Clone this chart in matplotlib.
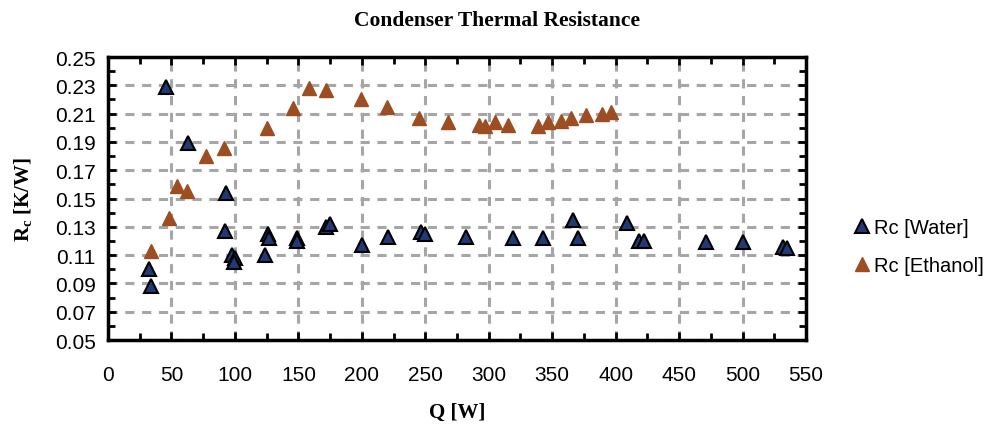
import matplotlib
matplotlib.use('Agg')
import matplotlib.pyplot as plt
from matplotlib.ticker import MultipleLocator, FormatStrFormatter

# Rc [Water]
q_water = [46, 63, 93, 92, 32, 34, 98, 100, 99, 124, 126, 127,
           149, 149, 172, 175, 200, 221, 247, 250, 282, 319, 343,
           366, 370, 409, 418, 422, 471, 500, 532, 535]
rc_water = [0.229, 0.189, 0.154, 0.127, 0.100, 0.088, 0.110, 0.108, 0.105,
            0.110, 0.125, 0.122, 0.122, 0.120, 0.130, 0.132, 0.117, 0.123,
            0.126, 0.125, 0.123, 0.122, 0.122, 0.135, 0.122, 0.133, 0.120,
            0.120, 0.119, 0.119, 0.116, 0.115]

# Rc [Ethanol]
q_eth = [34, 48, 54, 62, 77, 91, 125, 146, 158, 172, 199, 220, 245,
         268, 292, 297, 305, 315, 339, 347, 357, 365, 377, 389, 396]
rc_eth = [0.113, 0.136, 0.159, 0.155, 0.180, 0.186, 0.200, 0.214, 0.228,
          0.227, 0.220, 0.215, 0.207, 0.204, 0.202, 0.201, 0.204, 0.202,
          0.201, 0.204, 0.205, 0.207, 0.209, 0.210, 0.211]

fig = plt.figure(figsize=(9.93, 4.31), dpi=100)
ax = fig.add_axes([0.1088, 0.2088, 0.7029, 0.6566])

ax.plot(q_water, rc_water, linestyle='none', marker='^', markersize=10,
        markerfacecolor='#1F3A75', markeredgecolor='black', markeredgewidth=1.5,
        label='Rc [Water]', zorder=3)
ax.plot(q_eth, rc_eth, linestyle='none', marker='^', markersize=10,
        markerfacecolor='#9C4E22', markeredgecolor='#9C4E22', markeredgewidth=1,
        label='Rc [Ethanol]', zorder=3)

ax.set_xlim(0, 550)
ax.set_ylim(0.05, 0.25)
ax.xaxis.set_major_locator(MultipleLocator(50))
ax.xaxis.set_minor_locator(MultipleLocator(25))
ax.yaxis.set_minor_locator(MultipleLocator(0.01))
ax.set_yticks([0.05 + 0.02 * i for i in range(11)])
ax.yaxis.set_major_formatter(FormatStrFormatter('%.2f'))

ax.grid(True, which='major', color='#A6A6A6', linestyle=(0, (3, 2.5)), linewidth=2.2)
ax.tick_params(which='both', direction='in', top=True, right=True, width=2,
               labelsize=15)
ax.tick_params(which='major', length=6)
ax.tick_params(which='minor', length=5)
ax.tick_params(axis='x', which='major', pad=18)
ax.tick_params(axis='y', which='major', pad=9)
for lbl in ax.get_xticklabels() + ax.get_yticklabels():
    lbl.set_fontfamily('Liberation Sans')
for s in ax.spines.values():
    s.set_linewidth(2.5)

ax.set_xlabel('Q [W]', fontfamily='Liberation Serif', fontweight='bold',
              fontsize=15, labelpad=13)
ax.set_ylabel(r'R$_\mathregular{c}$ [K/W]', fontfamily='Liberation Serif',
              fontweight='bold', fontsize=15, labelpad=14)
fig.suptitle('Condenser Thermal Resistance', fontfamily='Liberation Serif',
             fontweight='bold', fontsize=15.5, x=0.5, y=0.975)

ax.legend(loc='center left', bbox_to_anchor=(1.04, 0.33), frameon=False,
          prop={'family': 'Liberation Sans', 'size': 14.5}, handletextpad=0.1,
          handlelength=1.0, labelspacing=0.95)

fig.savefig('out.png', dpi=100)
